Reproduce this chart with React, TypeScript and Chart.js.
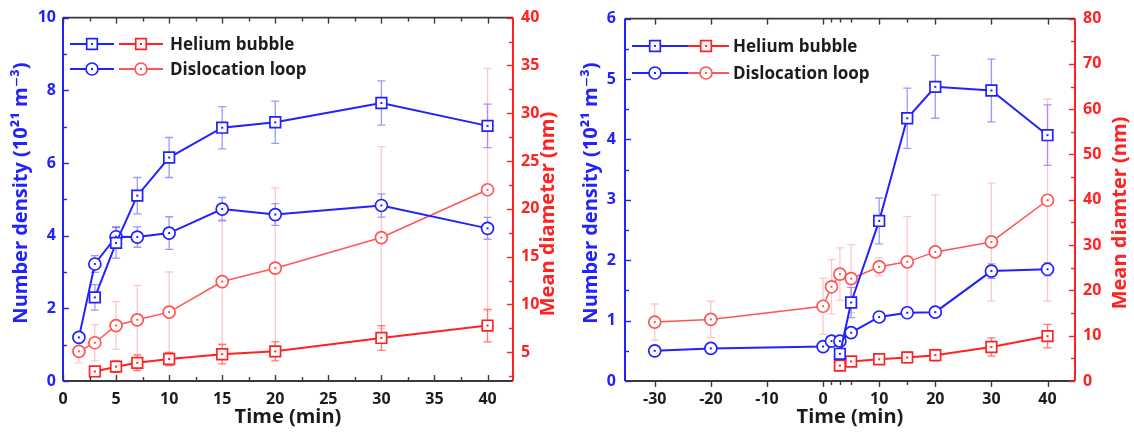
import React, { useEffect, useRef } from "react";
import { Chart, registerables } from "chart.js";

Chart.register(...registerables);

// ---------- Left panel data ----------
const leftBubbleTime = [3, 5, 7, 10, 15, 20, 30, 40];
const leftLoopTime = [1.5, 3, 5, 7, 10, 15, 20, 30, 40];
const leftBubbleDensity = [2.3, 3.8, 5.1, 6.15, 6.97, 7.12, 7.65, 7.02];
const leftBubbleDensityErr = [0.35, 0.42, 0.5, 0.55, 0.58, 0.58, 0.61, 0.6];
const leftLoopDensity = [1.2, 3.22, 3.97, 3.96, 4.07, 4.73, 4.58, 4.83, 4.2];
const leftLoopDensityErr = [0.1, 0.23, 0.28, 0.28, 0.45, 0.32, 0.3, 0.32, 0.3];
const leftBubbleDiameter = [3.0, 3.5, 3.9, 4.3, 4.8, 5.1, 6.5, 7.8];
const leftBubbleDiameterErr = [0.4, 0.6, 0.8, 0.7, 1.0, 1.0, 1.3, 1.7];
const leftLoopDiameter = [5.1, 6.0, 7.8, 8.4, 9.2, 12.4, 13.8, 17.0, 22.0];
const leftLoopDiameterErr = [1.2, 1.9, 2.5, 3.6, 4.2, 6.5, 8.4, 9.5, 12.7];

const leftXTicks = [0, 5, 10, 15, 20, 25, 30, 35, 40];
const leftXMinor = [2.5, 7.5, 12.5, 17.5, 22.5, 27.5, 32.5, 37.5];
const leftYLTicks = [0, 2, 4, 6, 8, 10];
const leftYLMinor = [1, 3, 5, 7, 9];
const leftYRTicks = [5, 10, 15, 20, 25, 30, 35, 40];
const leftYRMinor = [2.5, 7.5, 12.5, 17.5, 22.5, 27.5, 32.5, 37.5];

// ---------- Right panel data ----------
const rightBubbleTime = [3, 5, 10, 15, 20, 30, 40];
const rightLoopTime = [-30, -20, 0, 1.5, 3, 5, 10, 15, 20, 30, 40];
const rightBubbleDensity = [0.45, 1.3, 2.65, 4.35, 4.87, 4.81, 4.07];
const rightBubbleDensityErr = [0.08, 0.25, 0.38, 0.5, 0.52, 0.52, 0.5];
const rightLoopDensity = [0.5, 0.54, 0.57, 0.66, 0.66, 0.8, 1.06, 1.13, 1.14, 1.82, 1.85];
const rightLoopDensityErr = [0.03, 0.03, 0.04, 0.05, 0.05, 0.06, 0.06, 0.06, 0.07, 0.12, 0.11];
const rightBubbleDiameter = [3.4, 4.3, 4.8, 5.2, 5.7, 7.5, 9.9];
const rightBubbleDiameterErr = [0.6, 0.7, 0.8, 1.2, 1.3, 2.0, 2.6];
const rightLoopDiameter = [13.0, 13.6, 16.5, 20.8, 23.6, 22.6, 25.2, 26.3, 28.5, 30.7, 39.9];
const rightLoopDiameterErr = [4, 4, 6.2, 6, 5.8, 7.5, 2, 10, 12.6, 13, 22.3];

const rightXTicks = [-30, -20, -10, 0, 10, 20, 30, 40];
const rightXMinor = [1.5, 3, 5, 15];
const rightYLTicks = [0, 1, 2, 3, 4, 5, 6];
const rightYLMinor = [0.5, 1.5, 2.5, 3.5, 4.5, 5.5];
const rightYRTicks = [0, 10, 20, 30, 40, 50, 60, 70, 80];
const rightYRMinor = [5, 15, 25, 35, 45, 55, 65, 75];

const legendLabels = ["Helium bubble", "Dislocation loop"];
const densityTitle = "Number density (10²¹ m⁻³)";
const leftDiameterTitle = "Mean diameter (nm)";
const rightDiameterTitle = "Mean diamter (nm)";
const timeTitle = "Time (min)";

// ---------- Styles ----------
const FONT = '"Open Sans", "DejaVu Sans", sans-serif';
const BLUE = "#2222ff";
const RED = "#ff2222";
const RED_LIGHT = "#ff5555";
const DARK = "#1c1c1c";
const AXIS = "#3a3a3a";
const W = 567;
const H = 436;

type PanelCfg = {
  bubbleTime: number[];
  loopTime: number[];
  bubbleDensity: number[];
  bubbleDensityErr: number[];
  loopDensity: number[];
  loopDensityErr: number[];
  bubbleDiameter: number[];
  bubbleDiameterErr: number[];
  loopDiameter: number[];
  loopDiameterErr: number[];
  xMin: number;
  xMax: number;
  xTicks: number[];
  xMinor: number[];
  yL: [number, number];
  yR: [number, number];
  yLTicks: number[];
  yLMinor: number[];
  yRTicks: number[];
  yRMinor: number[];
  yLWidth: number;
  yRWidth: number;
  yLPad: number;
  yRPad: number;
  bottomOut: boolean;
  legendRows: number[];
  legendBlue: [number, number, number];
  legendRed: [number, number, number];
  legendTextX: number;
  leftTitleX: number;
  leftTitleY: number;
  rightTitleX: number;
  rightTitleY: number;
  rightTitle: string;
  bottomTitleY: number;
};

function mkDataset(
  label: string,
  xs: number[],
  ys: number[],
  err: number[],
  axis: string,
  color: string,
  style: string,
  errColor: string,
  lw: number
) {
  return {
    label,
    data: xs.map((x, i) => ({ x, y: ys[i] })),
    yAxisID: axis,
    err,
    errColor,
    markColor: color,
    borderColor: color,
    backgroundColor: color,
    borderWidth: lw,
    pointStyle: style,
    pointRadius: style === "rect" ? 7.5 : 6,
    pointHoverRadius: style === "rect" ? 7.5 : 6,
    pointBorderWidth: 1.7,
    pointBackgroundColor: "#ffffff",
    pointBorderColor: color,
    tension: 0,
    fill: false,
  };
}

function drawMarker(ctx: CanvasRenderingContext2D, style: string, x: number, y: number, color: string) {
  ctx.save();
  ctx.fillStyle = "#ffffff";
  ctx.strokeStyle = color;
  ctx.lineWidth = 1.7;
  ctx.beginPath();
  if (style === "rect") {
    const s = 5.3;
    ctx.rect(x - s, y - s, 2 * s, 2 * s);
  } else {
    ctx.arc(x, y, 6, 0, Math.PI * 2);
  }
  ctx.fill();
  ctx.stroke();
  ctx.fillStyle = color;
  ctx.fillRect(x - 1, y - 1, 2, 2);
  ctx.restore();
}

function makeDecor(p: PanelCfg) {
  return {
    id: "decor",
    beforeDatasetsDraw(chart: any) {
      const ctx: CanvasRenderingContext2D = chart.ctx;
      const xs = chart.scales.x;
      chart.data.datasets.forEach((ds: any) => {
        const ys = chart.scales[ds.yAxisID];
        ctx.save();
        ctx.strokeStyle = ds.errColor;
        ctx.lineWidth = 1.3;
        ds.data.forEach((pt: any, i: number) => {
          const e = ds.err[i];
          if (!e) return;
          const px = xs.getPixelForValue(pt.x);
          const y1 = ys.getPixelForValue(pt.y - e);
          const y2 = ys.getPixelForValue(pt.y + e);
          ctx.beginPath();
          ctx.moveTo(px, y1);
          ctx.lineTo(px, y2);
          ctx.moveTo(px - 4, y1);
          ctx.lineTo(px + 4, y1);
          ctx.moveTo(px - 4, y2);
          ctx.lineTo(px + 4, y2);
          ctx.stroke();
        });
        ctx.restore();
      });
    },
    afterDatasetsDraw(chart: any) {
      const ctx: CanvasRenderingContext2D = chart.ctx;
      chart.data.datasets.forEach((ds: any, di: number) => {
        const meta = chart.getDatasetMeta(di);
        ctx.save();
        ctx.fillStyle = ds.markColor;
        meta.data.forEach((el: any) => {
          ctx.fillRect(el.x - 1, el.y - 1, 2, 2);
        });
        ctx.restore();
      });
    },
    afterDraw(chart: any) {
      const ctx: CanvasRenderingContext2D = chart.ctx;
      const a = chart.chartArea;
      const xs = chart.scales.x;
      const yl = chart.scales.yL;
      const yr = chart.scales.yR;
      ctx.save();
      const seg = (x1: number, y1: number, x2: number, y2: number, c: string, w: number) => {
        ctx.strokeStyle = c;
        ctx.lineWidth = w;
        ctx.beginPath();
        ctx.moveTo(x1, y1);
        ctx.lineTo(x2, y2);
        ctx.stroke();
      };
      // frame
      seg(a.left, a.top, a.right, a.top, AXIS, 1.6);
      seg(a.left, a.bottom, a.right, a.bottom, AXIS, 1.8);
      seg(a.left, a.top, a.left, a.bottom, BLUE, 2);
      seg(a.right, a.top, a.right, a.bottom, RED, 2);
      // x ticks
      const dir = p.bottomOut ? 1 : -1;
      const xt = (v: number, len: number) => {
        const px = Math.round(xs.getPixelForValue(v)) + 0.5;
        seg(px, a.bottom, px, a.bottom + dir * len, AXIS, 1.4);
        seg(px, a.top, px, a.top + len, AXIS, 1.4);
      };
      p.xTicks.forEach((v) => xt(v, 6));
      p.xMinor.forEach((v) => xt(v, 4));
      // left ticks
      p.yLTicks.forEach((v) => {
        const py = Math.round(yl.getPixelForValue(v)) + 0.5;
        seg(a.left, py, a.left + 6, py, BLUE, 1.4);
      });
      p.yLMinor.forEach((v) => {
        const py = Math.round(yl.getPixelForValue(v)) + 0.5;
        seg(a.left, py, a.left + 4, py, BLUE, 1.4);
      });
      p.yRTicks.forEach((v) => {
        const py = Math.round(yr.getPixelForValue(v)) + 0.5;
        seg(a.right, py, a.right - 6, py, RED, 1.4);
      });
      p.yRMinor.forEach((v) => {
        const py = Math.round(yr.getPixelForValue(v)) + 0.5;
        seg(a.right, py, a.right - 4, py, RED, 1.4);
      });

      // legend
      const styles = ["rect", "circle"];
      p.legendRows.forEach((ry, i) => {
        const [b1, b2, bm] = p.legendBlue;
        const [r1, r2, rm] = p.legendRed;
        seg(b1, ry, b2, ry, BLUE, 2);
        drawMarker(ctx, styles[i], bm, ry, BLUE);
        seg(r1, ry, r2, ry, i === 0 ? RED : RED_LIGHT, 2);
        drawMarker(ctx, styles[i], rm, ry, i === 0 ? RED : RED_LIGHT);
        ctx.fillStyle = DARK;
        ctx.font = `bold 17px ${FONT}`;
        ctx.textAlign = "left";
        ctx.textBaseline = "middle";
        ctx.fillText(legendLabels[i], p.legendTextX, ry + 1);
      });

      // axis titles
      ctx.font = `bold 20px ${FONT}`;
      ctx.textAlign = "center";
      ctx.textBaseline = "middle";
      ctx.fillStyle = BLUE;
      ctx.save();
      ctx.translate(p.leftTitleX, p.leftTitleY);
      ctx.rotate(-Math.PI / 2);
      ctx.fillText(densityTitle, 0, 0);
      ctx.restore();
      ctx.fillStyle = RED;
      ctx.save();
      ctx.translate(p.rightTitleX, p.rightTitleY);
      ctx.rotate(-Math.PI / 2);
      ctx.fillText(p.rightTitle, 0, 0);
      ctx.restore();
      ctx.fillStyle = DARK;
      ctx.fillText(timeTitle, (a.left + a.right) / 2, p.bottomTitleY);
      ctx.restore();
    },
  };
}

function buildConfig(p: PanelCfg): any {
  const tickFont = { family: FONT, size: 16, weight: "bold" as const };
  const datasets = [
    mkDataset("Helium bubble density", p.bubbleTime, p.bubbleDensity, p.bubbleDensityErr, "yL", BLUE, "rect", "rgba(70,70,255,0.55)", 2),
    mkDataset("Dislocation loop density", p.loopTime, p.loopDensity, p.loopDensityErr, "yL", BLUE, "circle", "rgba(70,70,255,0.55)", 2),
    mkDataset("Helium bubble diameter", p.bubbleTime, p.bubbleDiameter, p.bubbleDiameterErr, "yR", RED, "rect", "rgba(255,60,60,0.7)", 2),
    mkDataset("Dislocation loop diameter", p.loopTime, p.loopDiameter, p.loopDiameterErr, "yR", RED_LIGHT, "circle", "rgba(255,110,110,0.38)", 1.5),
  ];
  return {
    type: "line",
    data: { datasets },
    options: {
      animation: false,
      responsive: false,
      devicePixelRatio: 1,
      layout: { padding: { top: 17, left: 0, right: 0, bottom: 0 } },
      plugins: { legend: { display: false }, tooltip: { enabled: false }, title: { display: false } },
      scales: {
        x: {
          type: "linear",
          position: "bottom",
          min: p.xMin,
          max: p.xMax,
          grid: { display: false, drawTicks: false },
          border: { display: false },
          afterBuildTicks: (s: any) => {
            s.ticks = p.xTicks.map((v) => ({ value: v }));
          },
          afterFit: (s: any) => {
            s.height = 55;
          },
          ticks: { color: DARK, font: tickFont, padding: 9, autoSkip: false, maxRotation: 0 },
        },
        yL: {
          type: "linear",
          position: "left",
          min: p.yL[0],
          max: p.yL[1],
          grid: { display: false, drawTicks: false },
          border: { display: false },
          afterBuildTicks: (s: any) => {
            s.ticks = p.yLTicks.map((v) => ({ value: v }));
          },
          afterFit: (s: any) => {
            s.width = p.yLWidth;
          },
          ticks: { color: BLUE, font: tickFont, padding: p.yLPad },
        },
        yR: {
          type: "linear",
          position: "right",
          min: p.yR[0],
          max: p.yR[1],
          grid: { display: false, drawTicks: false },
          border: { display: false },
          afterBuildTicks: (s: any) => {
            s.ticks = p.yRTicks.map((v) => ({ value: v }));
          },
          afterFit: (s: any) => {
            s.width = p.yRWidth;
          },
          ticks: { color: RED, font: tickFont, padding: p.yRPad },
        },
      },
    },
    plugins: [makeDecor(p)],
  };
}

const leftPanel: PanelCfg = {
  bubbleTime: leftBubbleTime,
  loopTime: leftLoopTime,
  bubbleDensity: leftBubbleDensity,
  bubbleDensityErr: leftBubbleDensityErr,
  loopDensity: leftLoopDensity,
  loopDensityErr: leftLoopDensityErr,
  bubbleDiameter: leftBubbleDiameter,
  bubbleDiameterErr: leftBubbleDiameterErr,
  loopDiameter: leftLoopDiameter,
  loopDiameterErr: leftLoopDiameterErr,
  xMin: 0,
  xMax: 42.4,
  xTicks: leftXTicks,
  xMinor: leftXMinor,
  yL: [0, 10],
  yR: [2, 40],
  yLTicks: leftYLTicks,
  yLMinor: leftYLMinor,
  yRTicks: leftYRTicks,
  yRMinor: leftYRMinor,
  yLWidth: 63,
  yRWidth: 54,
  yLPad: 7,
  yRPad: 8,
  bottomOut: false,
  legendRows: [44, 69],
  legendBlue: [70, 114, 92],
  legendRed: [119, 163, 141],
  legendTextX: 170,
  leftTitleX: 21,
  leftTitleY: 193,
  rightTitleX: 548,
  rightTitleY: 214,
  rightTitle: leftDiameterTitle,
  bottomTitleY: 417,
};

const rightPanel: PanelCfg = {
  bubbleTime: rightBubbleTime,
  loopTime: rightLoopTime,
  bubbleDensity: rightBubbleDensity,
  bubbleDensityErr: rightBubbleDensityErr,
  loopDensity: rightLoopDensity,
  loopDensityErr: rightLoopDensityErr,
  bubbleDiameter: rightBubbleDiameter,
  bubbleDiameterErr: rightBubbleDiameterErr,
  loopDiameter: rightLoopDiameter,
  loopDiameterErr: rightLoopDiameterErr,
  xMin: -35.3,
  xMax: 44.9,
  xTicks: rightXTicks,
  xMinor: rightXMinor,
  yL: [0, 6],
  yR: [0, 80],
  yLTicks: rightYLTicks,
  yLMinor: rightYLMinor,
  yRTicks: rightYRTicks,
  yRMinor: rightYRMinor,
  yLWidth: 58,
  yRWidth: 59,
  yLPad: 9,
  yRPad: 8,
  bottomOut: true,
  legendRows: [46, 73],
  legendBlue: [65, 121, 88],
  legendRed: [121, 162, 139],
  legendTextX: 166,
  leftTitleX: 24,
  leftTitleY: 193,
  rightTitleX: 553,
  rightTitleY: 213,
  rightTitle: rightDiameterTitle,
  bottomTitleY: 417,
};

function Panel({ cfg, left }: { cfg: PanelCfg; left: number }) {
  const ref = useRef<HTMLCanvasElement | null>(null);
  useEffect(() => {
    if (!ref.current) return;
    const chart = new Chart(ref.current, buildConfig(cfg));
    return () => chart.destroy();
  }, [cfg]);
  return (
    <canvas
      ref={ref}
      width={W}
      height={H}
      style={{ position: "absolute", left, top: 0, width: W, height: H }}
    />
  );
}

export default function App() {
  return (
    <div style={{ position: "fixed", left: 0, top: 0, width: 1134, height: 436, background: "#ffffff" }}>
      <Panel cfg={leftPanel} left={0} />
      <Panel cfg={rightPanel} left={567} />
    </div>
  );
}
